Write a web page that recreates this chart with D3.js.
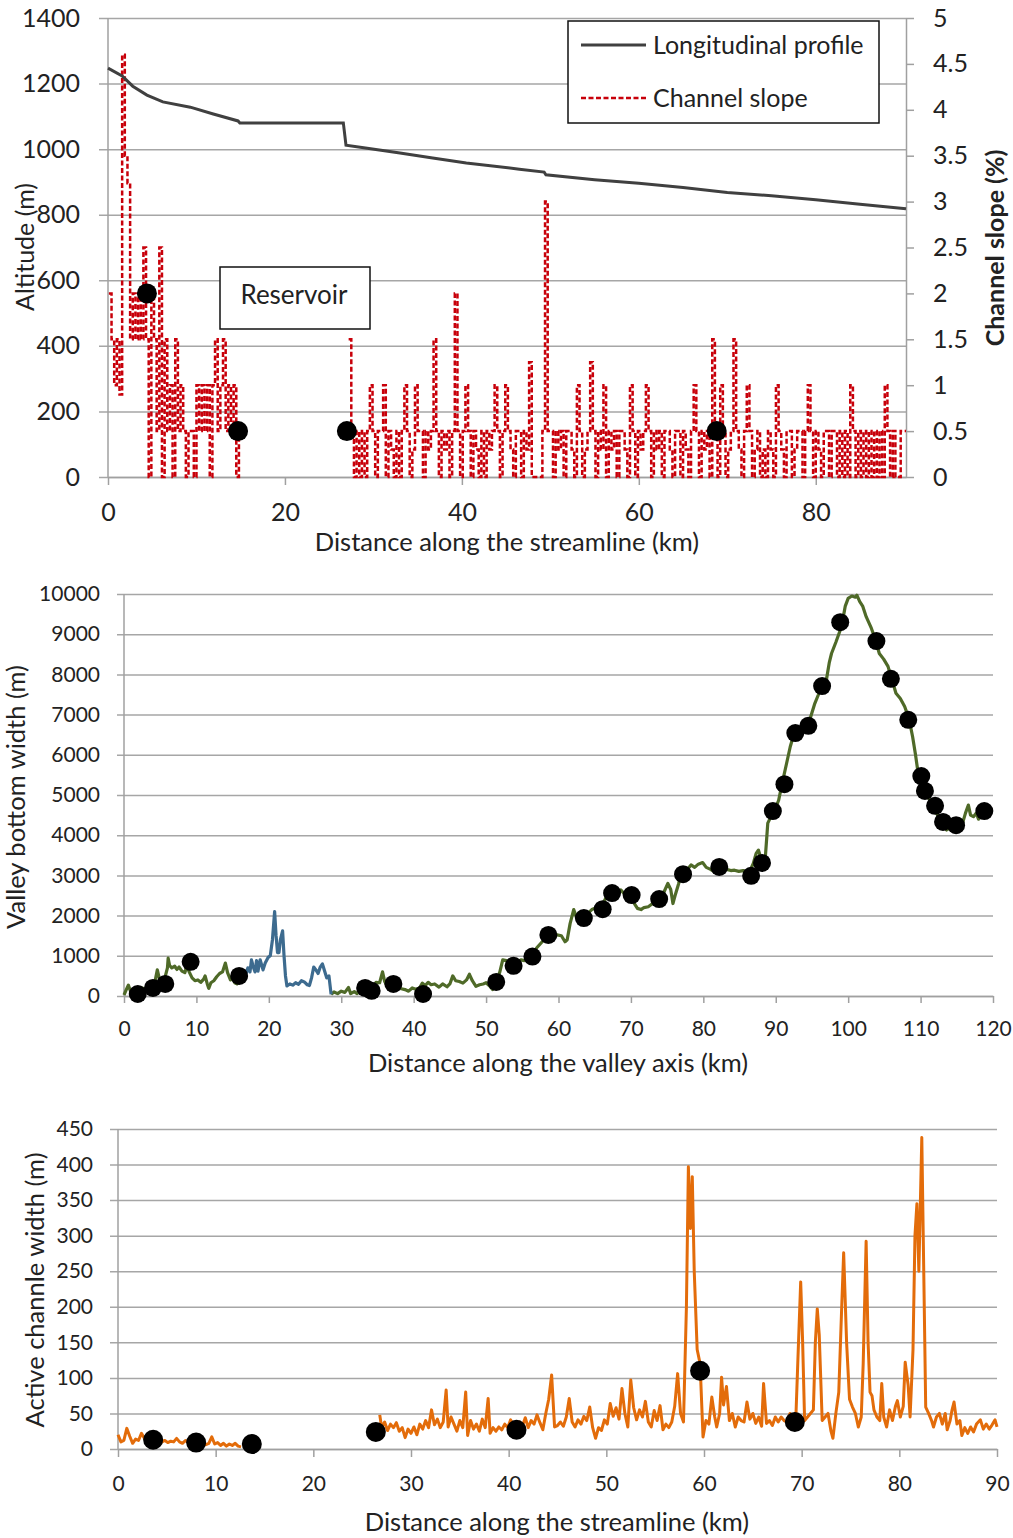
<!DOCTYPE html>
<html>
<head>
<meta charset="utf-8">
<script src="https://cdn.jsdelivr.net/npm/d3@7"></script>
<style>
  body { margin: 0; background: #fff; }
  svg text { font-family: Lato, 'Open Sans', sans-serif; fill: #222; }
  .grid line { stroke: #a6a6a6; stroke-width: 1.5; }
  .grid path { display: none; }
  .axis path, .axis line { stroke: #a0a0a0; stroke-width: 1.5; }
  .labels path, .labels line { display: none; }
</style>
</head>
<body>
<script>
'use strict';

// ---- panel 1: longitudinal profile and channel slope ----
var altTicks = [0, 200, 400, 600, 800, 1000, 1200, 1400];
var slopeTicks = [0, 0.5, 1, 1.5, 2, 2.5, 3, 3.5, 4, 4.5, 5];
var streamTicks1 = [0, 20, 40, 60, 80];

// profile: [km, altitude m]
var profile = [[0, 1247], [1.6, 1223], [2.8, 1192], [4.4, 1165], [6.2, 1144], [9.3, 1128],
  [11.9, 1107], [14.7, 1086], [14.9, 1080], [26.6, 1080], [26.9, 1012], [29.3, 1003],
  [33, 988], [36.7, 973], [40.5, 958], [46.5, 939], [49.3, 930], [49.5, 922], [55, 907],
  [60, 896], [65, 883], [70, 868], [75, 858], [80, 846], [85, 832], [90.2, 818]];

// channel slope (%) sampled every 0.3 km, upstream of the reservoir and downstream of it
var slopeStep = 0.3;
var slopeStartA = 0.1;
var slopeA = [2.0, 1.5, 1.0, 1.5, 0.9, 4.6, 3.5, 3.2, 1.5, 2.0,
  1.5, 2.0, 1.5, 2.5, 1.5, 0, 2.0, 1.5, 0.5, 2.5,
  0, 1.5, 0.5, 1.0, 0, 1.5, 0.5, 1.0, 0.5, 0,
  0.5, 0.5, 0, 1.0, 0.5, 1.0, 0.5, 1.0, 0, 1.0,
  1.5, 0.5, 1.0, 1.5, 0.5, 1.0, 0.5, 1.0, 0, 0.5];
var slopeStartB = 27.2;
var slopeB = [1.5, 0.5, 0, 0.5, 0, 0.5, 0, 0.5, 1.0, 0.5,
  0, 0.5, 0.5, 1.0, 0, 0.5, 0.3, 0, 0.5, 0,
  0.5, 1.0, 0.5, 0, 0.3, 1.0, 0.5, 0.5, 0, 0.5,
  0.3, 0.5, 1.5, 0.5, 0, 0.5, 0.3, 0.5, 0, 0.5,
  2.0, 0.5, 0, 0.5, 1.0, 0.5, 0, 0.5, 0.3, 0,
  0.5, 0, 0.5, 0.3, 0.5, 1.0, 0.5, 0, 0.5, 1.0,
  0.5, 0.3, 0, 0.5, 0.5, 0, 0.5, 0.3, 1.25, 0,
  0, 0, 0, 0.5, 3.0, 0.5, 0.5, 0, 0.5, 0.3,
  0.5, 0, 0.5, 0.5, 0.3, 0, 1.0, 0.5, 0, 0.3,
  0.5, 1.25, 0.5, 0, 0.5, 0.3, 1.0, 0, 0.5, 0.3,
  0.5, 0, 0.5, 0.5, 0.3, 0, 1.0, 0.5, 0, 0.5,
  0.3, 0.5, 1.0, 0.5, 0, 0.5, 0.3, 0.5, 0, 0.5,
  0.5, 0.3, 0, 0.5, 0.5, 0, 0.5, 0.3, 0, 0.5,
  1.0, 0.5, 0, 0.5, 0.3, 0.5, 0, 1.5, 0.5, 0,
  1.0, 0.5, 0, 0.3, 0.5, 1.5, 0.5, 0.3, 0, 0.5,
  1.0, 0.5, 0, 0.3, 0.5, 0, 0.3, 0, 0.5, 0.3,
  0, 1.0, 0.5, 0.3, 0, 0.5, 0.5, 0, 0.3, 0.5,
  0.5, 0, 0.5, 1.0, 0.5, 0, 0.5, 0.3, 0, 0.5,
  0.5, 0, 0.5, 0.5, 0, 0.5, 0, 0.5, 0, 1.0,
  0.5, 0, 0.5, 0, 0.5, 0, 0.5, 0, 0.5, 0,
  0.5, 0, 1.0, 0.5, 0, 0.5, 0, 0, 0.5, 0.5, 0.5];

// sampled reaches (black dots), on the slope axis
var reachKm1 = [4.4, 14.7, 27.0, 68.8];
var reachSlope1 = [2.0, 0.5, 0.5, 0.5];

// ---- panel 2: valley bottom width ----
var widthTicks = [0, 1000, 2000, 3000, 4000, 5000, 6000, 7000, 8000, 9000, 10000];
var valleyTicks = [0, 10, 20, 30, 40, 50, 60, 70, 80, 90, 100, 110, 120];

var valleyA = [[0, 25], [0.3, 150], [0.6, 270], [0.9, 120], [1.2, 60], [1.6, 150], [2.0, 100],
  [2.5, 200], [3.0, 170], [3.5, 260], [4.0, 220], [4.3, 380], [4.6, 650], [4.9, 420], [5.2, 300],
  [5.6, 420], [6.0, 700], [6.1, 940], [6.3, 760], [6.6, 700], [7.0, 740], [7.3, 660], [7.6, 720],
  [8.0, 620], [8.4, 580], [8.7, 760], [9.0, 600], [9.4, 450], [9.8, 380], [10.2, 400], [10.6, 340],
  [11.0, 420], [11.2, 500], [11.5, 300], [11.7, 190], [12.0, 330], [12.4, 380], [12.8, 480],
  [13.2, 560], [13.6, 600], [14.0, 820], [14.3, 580], [14.7, 400], [15.0, 440], [15.3, 330],
  [15.6, 300], [16.0, 420], [16.5, 650]];
var valleyBlue = [[16.5, 650], [16.8, 520], [17.1, 700], [17.4, 600], [17.6, 900], [17.9, 700],
  [18.1, 600], [18.3, 880], [18.5, 620], [18.8, 900], [19.0, 780], [19.2, 650], [19.5, 820],
  [19.9, 960], [20.2, 1000], [20.5, 1400], [20.8, 2100], [21.0, 1500], [21.2, 1080], [21.4, 1080],
  [21.6, 1400], [21.9, 1620], [22.1, 1000], [22.3, 500], [22.5, 250], [22.9, 300], [23.3, 270],
  [23.7, 330], [24.1, 290], [24.5, 380], [24.9, 350], [25.3, 280], [25.6, 260], [25.9, 450],
  [26.2, 720], [26.5, 650], [26.8, 560], [27.1, 720], [27.4, 800], [27.7, 620], [28.0, 450],
  [28.3, 500], [28.6, 40]];
var valleyB = [[28.6, 40], [29.0, 100], [29.5, 60], [30.0, 120], [30.5, 90], [31.0, 210], [31.3, 60],
  [31.8, 110], [32.2, 60], [32.7, 180], [33.3, 220], [33.8, 150], [34.3, 200], [34.8, 340],
  [35.3, 330], [35.7, 600], [36.0, 360], [36.3, 260], [36.8, 300], [37.3, 230], [37.8, 200],
  [38.3, 180], [38.8, 160], [39.3, 120], [39.8, 200], [40.3, 170], [40.8, 200], [41.2, 320],
  [41.6, 260], [42.0, 340], [42.4, 280], [42.9, 300], [43.5, 220], [44.0, 300], [44.6, 230],
  [45.0, 300], [45.4, 500], [45.8, 380], [46.3, 360], [46.8, 320], [47.3, 400], [47.7, 540],
  [48.1, 380], [48.6, 240], [49.1, 280], [49.6, 300], [50.0, 330], [50.5, 250], [50.9, 160],
  [51.4, 350], [51.9, 600], [52.3, 900], [52.8, 880], [53.3, 800], [53.8, 760], [54.3, 850],
  [54.8, 900], [55.3, 880], [55.8, 960], [56.4, 1000], [57.0, 1200], [57.5, 1300], [58.0, 1400],
  [58.6, 1520], [59.3, 1580], [59.8, 1520], [60.4, 1500], [60.9, 1350], [61.2, 1400], [61.6, 1800],
  [62.1, 2150], [62.5, 1950], [63.0, 2050], [63.5, 1950], [64.0, 2050], [64.6, 2150], [65.3, 2200],
  [65.8, 2150], [66.3, 2350], [66.7, 2500], [67.2, 2640], [67.7, 2680], [68.2, 2600], [68.6, 2640],
  [69.2, 2520], [69.7, 2450], [70.3, 2350], [70.9, 2180], [71.4, 2150], [71.8, 2200], [72.4, 2220],
  [73.0, 2300], [73.5, 2400], [74.0, 2450], [74.6, 2600], [75.1, 2800], [75.5, 2650], [75.8, 2300],
  [76.1, 2500], [76.6, 2800], [76.9, 3050], [77.4, 3100], [77.8, 3150], [78.3, 3260], [78.8, 3200],
  [79.3, 3280], [79.9, 3320], [80.4, 3200], [81.0, 3150], [81.5, 3090], [82.0, 3150], [82.6, 3220],
  [83.2, 3150], [83.8, 3120], [84.3, 3130], [84.9, 3100], [85.5, 3120], [86.0, 3080], [86.4, 3100],
  [86.9, 3300], [87.3, 3550], [87.6, 3630], [88.0, 3400], [88.5, 3300], [88.9, 4300], [89.3, 4450],
  [89.8, 4600], [90.4, 4870], [90.9, 5300], [91.5, 5790], [92.0, 6200], [92.4, 6450], [93.0, 6600],
  [93.6, 6700], [94.2, 6780], [94.7, 6870], [95.4, 7280], [95.9, 7500], [96.4, 7750], [97.0, 7870],
  [97.4, 8300], [97.7, 8520], [98.3, 8800], [98.9, 9100], [99.3, 9400], [99.6, 9700], [100.0, 9890],
  [100.5, 9950], [101.0, 9920], [101.2, 9970], [101.6, 9810], [102.0, 9700], [102.5, 9430],
  [103.2, 9150], [103.7, 8900], [104.3, 8520], [104.9, 8380], [105.5, 8200], [106.0, 7900],
  [106.6, 7530], [107.2, 7400], [107.8, 7200], [108.4, 6900], [108.9, 6450], [109.3, 6000],
  [109.6, 5620], [110.1, 5350], [110.6, 5130], [111.3, 4850], [112.2, 4550], [112.9, 4300],
  [113.6, 4130], [114.2, 4200], [114.8, 4250], [115.4, 4400], [115.8, 4300], [116.2, 4550],
  [116.6, 4750], [116.9, 4500], [117.3, 4460], [117.7, 4550], [118.0, 4400], [118.5, 4550]];

var reachKm2 = [1.9, 4.0, 5.7, 9.2, 15.9, 33.3, 34.2, 37.2, 41.3, 51.4, 53.8, 56.4, 58.6, 63.5,
  66.1, 67.4, 70.1, 73.9, 77.2, 82.2, 86.6, 88.1, 89.6, 91.2, 92.7, 94.5, 96.4, 98.9, 103.9,
  105.9, 108.3, 110.1, 110.6, 112.0, 113.1, 114.9, 118.8];
var reachWidth2 = [50, 200, 300, 850, 500, 200, 130, 300, 50, 350, 750, 980, 1520, 1940,
  2160, 2560, 2510, 2410, 3030, 3210, 2990, 3310, 4600, 5270, 6540, 6720, 7710, 9300, 8830,
  7890, 6870, 5470, 5100, 4730, 4330, 4250, 4600];

// ---- panel 3: active channel width ----
var channelTicks = [0, 50, 100, 150, 200, 250, 300, 350, 400, 450];
var streamTicks3 = [0, 10, 20, 30, 40, 50, 60, 70, 80, 90];

var channelA = [[0, 20], [0.3, 10], [0.6, 12], [0.9, 29], [1.2, 18], [1.5, 8], [1.8, 14], [2.1, 12],
  [2.4, 22], [2.7, 15], [3.0, 12], [3.3, 16], [3.6, 14], [3.9, 11], [4.2, 13], [4.5, 10], [4.8, 12],
  [5.1, 9], [5.4, 11], [5.7, 10], [6.0, 15], [6.3, 10], [6.6, 8], [6.9, 12], [7.2, 9], [7.5, 14],
  [7.8, 8], [8.1, 10], [8.4, 7], [8.7, 9], [9.0, 6], [9.3, 8], [9.6, 17], [9.9, 7], [10.2, 9],
  [10.5, 5], [10.8, 8], [11.1, 4], [11.4, 7], [11.7, 5], [12.0, 8], [12.3, 4], [12.6, 3]];
var channelB = [[26.8, 48], [27.0, 30], [27.3, 38], [27.6, 26], [27.9, 35], [28.2, 30], [28.5, 37],
  [28.8, 25], [29.1, 30], [29.4, 16], [29.7, 28], [30.0, 22], [30.3, 31], [30.6, 20], [30.9, 35],
  [31.2, 28], [31.5, 40], [31.8, 30], [32.1, 55], [32.4, 34], [32.7, 42], [33.0, 30], [33.3, 38],
  [33.6, 83], [33.8, 31], [34.1, 45], [34.4, 35], [34.7, 25], [35.0, 40], [35.3, 30], [35.6, 80],
  [35.8, 19], [36.1, 40], [36.4, 28], [36.7, 35], [37.0, 25], [37.3, 42], [37.6, 30], [37.9, 71],
  [38.1, 22], [38.4, 30], [38.7, 25], [39.0, 31], [39.3, 27], [39.6, 35], [39.9, 30], [40.2, 41],
  [40.5, 33], [40.8, 27], [41.1, 38], [41.4, 32], [41.7, 44], [42.0, 30], [42.3, 40], [42.6, 35],
  [42.9, 48], [43.2, 37], [43.5, 27], [43.8, 50], [44.1, 70], [44.4, 104], [44.7, 31], [45.0, 33],
  [45.3, 38], [45.6, 32], [45.9, 45], [46.2, 71], [46.5, 38], [46.8, 31], [47.1, 41], [47.4, 35],
  [47.7, 46], [48.0, 40], [48.3, 59], [48.6, 30], [48.9, 15], [49.2, 30], [49.5, 26], [49.8, 41],
  [50.1, 35], [50.4, 64], [50.7, 46], [51.0, 58], [51.3, 42], [51.6, 85], [51.9, 50], [52.2, 31],
  [52.5, 97], [52.8, 58], [53.1, 41], [53.4, 55], [53.7, 45], [54.0, 67], [54.3, 38], [54.6, 31],
  [54.9, 54], [55.2, 40], [55.5, 61], [55.8, 27], [56.1, 35], [56.4, 30], [56.7, 38], [57.0, 60],
  [57.3, 106], [57.6, 50], [57.9, 38], [58.2, 200], [58.4, 397], [58.6, 310], [58.8, 383],
  [59.0, 250], [59.3, 140], [59.6, 120], [59.9, 17], [60.2, 40], [60.5, 35], [60.8, 73], [61.1, 45],
  [61.3, 31], [61.6, 50], [61.8, 101], [62.0, 62], [62.3, 88], [62.6, 40], [62.9, 50], [63.2, 31],
  [63.5, 45], [63.8, 40], [64.1, 38], [64.4, 66], [64.7, 42], [65.0, 50], [65.3, 36], [65.6, 45],
  [65.9, 32], [66.1, 92], [66.4, 36], [66.7, 40], [67.0, 33], [67.3, 45], [67.6, 38], [67.9, 45],
  [68.2, 40], [68.5, 38], [68.8, 50], [69.1, 36], [69.4, 42], [69.6, 120], [69.9, 235], [70.1, 150],
  [70.3, 40], [70.6, 45], [70.9, 50], [71.2, 55], [71.4, 150], [71.6, 197], [71.8, 160], [72.1, 40],
  [72.4, 45], [72.7, 50], [73.0, 25], [73.2, 15], [73.5, 50], [73.8, 80], [74.1, 200], [74.3, 276],
  [74.6, 150], [74.9, 70], [75.2, 59], [75.5, 50], [75.8, 31], [76.1, 45], [76.3, 120], [76.6, 292],
  [76.8, 150], [77.0, 80], [77.2, 75], [77.4, 55], [77.7, 45], [78.0, 40], [78.2, 92], [78.4, 45],
  [78.7, 31], [79.0, 55], [79.3, 40], [79.6, 60], [79.8, 68], [80.1, 45], [80.4, 60], [80.6, 122],
  [80.9, 90], [81.1, 45], [81.4, 140], [81.6, 300], [81.8, 345], [82.0, 250], [82.3, 438],
  [82.5, 250], [82.7, 59], [83.0, 50], [83.3, 40], [83.5, 31], [83.8, 45], [84.1, 50], [84.4, 35],
  [84.7, 50], [84.9, 27], [85.2, 40], [85.4, 55], [85.6, 66], [85.9, 35], [86.2, 40], [86.4, 19],
  [86.7, 30], [87.0, 22], [87.3, 31], [87.6, 24], [87.9, 35], [88.3, 41], [88.6, 28], [88.9, 35],
  [89.2, 28], [89.5, 34], [89.8, 41], [90.0, 31]];

var reachKm3 = [3.6, 8.0, 13.7, 26.4, 40.8, 59.6, 69.3];
var reachWidth3 = [13, 9, 7, 24, 27, 110, 38];

// ---------------------------------------------------------------
var svg = d3.select('body').append('svg')
    .attr('width', 1013)
    .attr('height', 1538);

var plain = d3.format('d');

// helper: gridlines, y labels, y axis line and x axis for one panel
function frame(x, y, yTicks, xTicks, opt) {
  var left = x.range()[0], right = x.range()[1];
  var bottom = y.range()[0], top = y.range()[1];

  svg.append('g')
      .attr('class', 'grid')
      .attr('transform', 'translate(' + (left - opt.gridOut) + ',0)')
      .call(d3.axisRight(y).tickValues(yTicks).tickSize(right - left + opt.gridOut).tickFormat(''));

  svg.append('g')
      .attr('class', 'labels')
      .attr('transform', 'translate(' + left + ',0)')
      .call(d3.axisLeft(y).tickValues(yTicks).tickSize(0).tickPadding(opt.yPad).tickFormat(plain))
      .selectAll('text').style('font-size', opt.yFont + 'px');

  svg.append('line')
      .attr('x1', left).attr('x2', left)
      .attr('y1', top).attr('y2', bottom)
      .attr('stroke', '#a0a0a0').attr('stroke-width', 1.5);

  svg.append('g')
      .attr('class', 'axis')
      .attr('transform', 'translate(0,' + bottom + ')')
      .call(d3.axisBottom(x).tickValues(xTicks).tickSize(opt.xTick).tickSizeOuter(0)
        .tickPadding(opt.xPad).tickFormat(plain))
      .selectAll('text').style('font-size', opt.xFont + 'px');
}

function pairs(start, step, values) {
  return values.map(function(v, i) { return [start + i * step, v]; });
}

// ---- panel 1 ----
var x1 = d3.scaleLinear().domain([0, 90.2]).range([108, 906]);
var y1 = d3.scaleLinear().domain([0, 1400]).range([477, 18]);
var y1r = d3.scaleLinear().domain([0, 5]).range([477, 18]);

frame(x1, y1, altTicks, streamTicks1, {gridOut: 9, yPad: 28, yFont: 25, xTick: 8, xPad: 18, xFont: 25});

// right slope axis
svg.append('g')
    .attr('class', 'axis')
    .attr('transform', 'translate(906,0)')
    .call(d3.axisRight(y1r).tickValues(slopeTicks).tickSize(8).tickSizeOuter(0).tickPadding(19)
      .tickFormat(function(d) { return String(d); }))
    .selectAll('text').style('font-size', '25px');

var slopeLine = d3.line()
    .x(function(d) { return x1(d[0]); })
    .y(function(d) { return y1r(d[1]); })
    .curve(d3.curveStepAfter);

[pairs(slopeStartA, slopeStep, slopeA), pairs(slopeStartB, slopeStep, slopeB)].forEach(function(seg) {
  svg.append('path')
      .datum(seg)
      .attr('d', slopeLine)
      .attr('fill', 'none')
      .attr('stroke', '#c8000a')
      .attr('stroke-width', 2.5)
      .attr('stroke-dasharray', '5,2.5');
});

svg.append('path')
    .datum(profile)
    .attr('d', d3.line().x(function(d) { return x1(d[0]); }).y(function(d) { return y1(d[1]); }))
    .attr('fill', 'none')
    .attr('stroke', '#404040')
    .attr('stroke-width', 3);

svg.selectAll('.dot1')
    .data(reachKm1)
  .enter().append('circle')
    .attr('cx', function(d) { return x1(d); })
    .attr('cy', function(d, i) { return y1r(reachSlope1[i]); })
    .attr('r', 10)
    .attr('fill', '#000');

// titles (x title sits just below the tick labels)
svg.append('text')
    .attr('transform', 'translate(507,551)')
    .style('text-anchor', 'middle')
    .style('font-size', '25.5px')
    .text('Distance along the streamline (km)');

svg.append('text')
    .attr('transform', 'translate(34,247) rotate(-90)')
    .style('text-anchor', 'middle')
    .style('font-size', '25px')
    .text('Altitude (m)');

svg.append('text')
    .attr('transform', 'translate(1004,248) rotate(-90)')
    .style('text-anchor', 'middle')
    .style('font-size', '25px')
    .style('font-weight', 'bold')
    .text('Channel slope (%)');

// legend
var legend = svg.append('g');
legend.append('rect')
    .attr('x', 568).attr('y', 21).attr('width', 311).attr('height', 102)
    .attr('fill', '#fff').attr('stroke', '#111').attr('stroke-width', 1.5);
legend.append('line')
    .attr('x1', 581).attr('x2', 646).attr('y1', 45).attr('y2', 45)
    .attr('stroke', '#404040').attr('stroke-width', 3);
legend.append('line')
    .attr('x1', 581).attr('x2', 646).attr('y1', 98).attr('y2', 98)
    .attr('stroke', '#c8000a').attr('stroke-width', 2.5).attr('stroke-dasharray', '5,2.5');
legend.append('text').attr('x', 653).attr('y', 54).style('font-size', '25px').text('Longitudinal profile');
legend.append('text').attr('x', 653).attr('y', 107).style('font-size', '25px').text('Channel slope');

// reservoir note
svg.append('rect')
    .attr('x', 220).attr('y', 267).attr('width', 150).attr('height', 62)
    .attr('fill', '#fff').attr('stroke', '#111').attr('stroke-width', 1.5);
svg.append('text')
    .attr('x', 294).attr('y', 304)
    .style('text-anchor', 'middle')
    .style('font-size', '26px')
    .text('Reservoir');

// ---- panel 2 ----
var x2 = d3.scaleLinear().domain([0, 120]).range([124, 993]);
var y2 = d3.scaleLinear().domain([0, 10000]).range([996, 594]);

frame(x2, y2, widthTicks, valleyTicks, {gridOut: 7, yPad: 24, yFont: 21, xTick: 7, xPad: 18, xFont: 21});

var line2 = d3.line()
    .x(function(d) { return x2(d[0]); })
    .y(function(d) { return y2(d[1]); });

[[valleyA, '#4f6a28'], [valleyB, '#4f6a28'], [valleyBlue, '#3d6b8f']].forEach(function(s) {
  svg.append('path')
      .datum(s[0])
      .attr('d', line2)
      .attr('fill', 'none')
      .attr('stroke', s[1])
      .attr('stroke-width', 3.2)
      .attr('stroke-linejoin', 'round');
});

svg.selectAll('.dot2')
    .data(reachKm2)
  .enter().append('circle')
    .attr('cx', function(d) { return x2(d); })
    .attr('cy', function(d, i) { return y2(reachWidth2[i]); })
    .attr('r', 9)
    .attr('fill', '#000');

svg.append('text')
    .attr('transform', 'translate(558,1072)')
    .style('text-anchor', 'middle')
    .style('font-size', '25.5px')
    .text('Distance along the valley axis (km)');

svg.append('text')
    .attr('transform', 'translate(25,797) rotate(-90)')
    .style('text-anchor', 'middle')
    .style('font-size', '25.5px')
    .text('Valley bottom width (m)');

// ---- panel 3 ----
var x3 = d3.scaleLinear().domain([0, 90]).range([118, 997]);
var y3 = d3.scaleLinear().domain([0, 450]).range([1449, 1129]);

frame(x3, y3, channelTicks, streamTicks3, {gridOut: 8, yPad: 25, yFont: 21, xTick: 8, xPad: 19, xFont: 21});

var line3 = d3.line()
    .x(function(d) { return x3(d[0]); })
    .y(function(d) { return y3(d[1]); });

[channelA, channelB].forEach(function(seg) {
  svg.append('path')
      .datum(seg)
      .attr('d', line3)
      .attr('fill', 'none')
      .attr('stroke', '#e36c0a')
      .attr('stroke-width', 3)
      .attr('stroke-linejoin', 'round');
});

svg.selectAll('.dot3')
    .data(reachKm3)
  .enter().append('circle')
    .attr('cx', function(d) { return x3(d); })
    .attr('cy', function(d, i) { return y3(reachWidth3[i]); })
    .attr('r', 10)
    .attr('fill', '#000');

svg.append('text')
    .attr('transform', 'translate(557,1531)')
    .style('text-anchor', 'middle')
    .style('font-size', '25.5px')
    .text('Distance along the streamline (km)');

svg.append('text')
    .attr('transform', 'translate(44,1290) rotate(-90)')
    .style('text-anchor', 'middle')
    .style('font-size', '25.5px')
    .text('Active channle width (m)');
</script>
</body>
</html>
